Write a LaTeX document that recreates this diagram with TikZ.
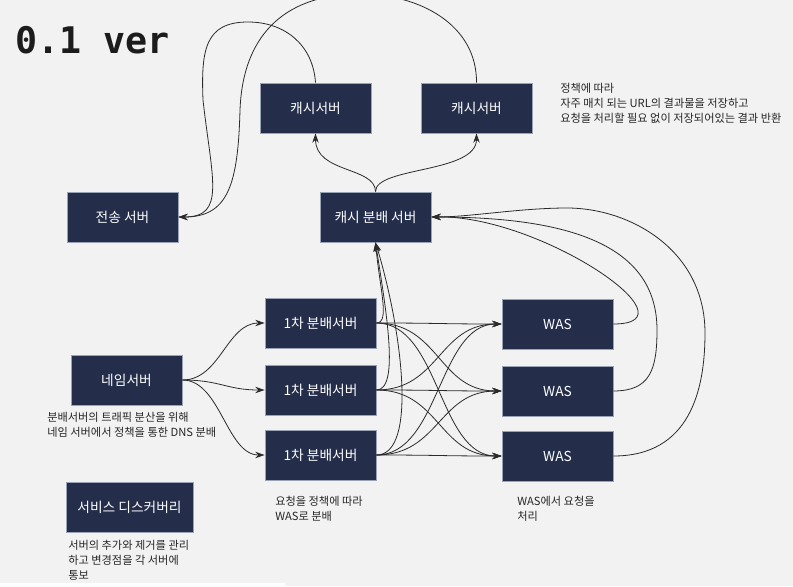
\documentclass[tikz,border=0pt]{standalone}
\usepackage{fontspec}
\setmainfont{Noto Sans CJK KR}
\newfontfamily\titlefont{DejaVu Sans Mono}
\usetikzlibrary{arrows.meta}
\definecolor{bg}{HTML}{F2F2F2}
\definecolor{boxfill}{HTML}{242E4B}
\definecolor{boxline}{HTML}{9AA3B5}
\definecolor{edgecol}{HTML}{2B2B2B}
\definecolor{notecol}{HTML}{262626}
\definecolor{titlecol}{HTML}{1C1C1C}
\begin{document}
\begin{tikzpicture}[x=0.75pt,y=-0.75pt,
  server/.style={draw=boxline, line width=0.6pt, fill=boxfill, text=white,
    minimum width=83.25pt, minimum height=37.5pt, inner sep=0pt,
    font=\fontsize{10.3}{12}\selectfont},
  notetext/.style={anchor=north west, align=left, inner sep=0pt, text=notecol,
    font=\fontsize{8.4}{11.25}\selectfont},
  link/.style={draw=edgecol, line width=0.6pt},
  arrowlink/.style={link, -{Stealth[length=7pt,width=4.8pt]}}
]
\fill[bg] (0,0) rectangle (793,586);
\useasboundingbox (0,0) rectangle (793,586);
\fill[white] (0,583) rectangle (285,586);

\node[anchor=base west, inner sep=0pt, text=titlecol,
  font=\titlefont\bfseries\fontsize{27.5}{30}\selectfont] (title) at (15,53) {0.1 ver};

% servers
\node[server] (cache1) at (315.5,108) {캐시서버};
\node[server] (cache2) at (476.5,108) {캐시서버};
\node[server] (trans) at (122.5,217) {전송 서버};
\node[server] (dist) at (375.5,217) {캐시 분배 서버};
\node[server] (names) at (126.5,380) {네임서버};
\node[server] (p1) at (320.5,323) {1차 분배서버};
\node[server] (p2) at (320.5,390) {1차 분배서버};
\node[server] (p3) at (320.5,455) {1차 분배서버};
\node[server] (w1) at (557.5,324) {WAS};
\node[server] (w2) at (557.5,391) {WAS};
\node[server] (w3) at (557.5,456) {WAS};
\node[server, minimum width=95.25pt] (disc) at (129.5,507) {서비스 디스커버리};

% notes
\node[notetext] (n1) at (560,83) {정책에 따라\\자주 매치 되는 URL의 결과물을 저장하고\\요청을 처리할 필요 없이 저장되어있는 결과 반환};
\node[notetext] (n2) at (47,412) {분배서버의 트래픽 분산을 위해\\네임 서버에서 정책을 통한 DNS 분배};
\node[notetext] (n3) at (68,540) {서버의 추가와 제거를 관리\\하고 변경점을 각 서버에\\통보};
\node[notetext] (n4) at (275,496) {요청을 정책에 따라\\WAS로 분배};
\node[notetext] (n5) at (517,496) {WAS에서 요청을\\처리};

% cache distributor -> cache servers
\draw[arrowlink] (dist.north) .. controls +(0,-25) and +(0,40) .. (cache1.south);
\draw[arrowlink] (dist.north) .. controls +(0,-25) and +(0,40) .. (cache2.south);

% cache servers -> transfer server
\draw[arrowlink] (cache1.north) .. controls (313,45) and (285,22) .. (248,22)
  .. controls (205,22) and (201,50) .. (203,100)
  .. controls (212,180) and (226,217) .. (trans.east);
\draw[arrowlink] (cache2.north) .. controls (477,25) and (420,-6) .. (360,-6)
  .. controls (290,-6) and (243,30) .. (240,110)
  .. controls (238,185) and (228,217) .. (trans.east);

% name server -> primary distributors
\foreach \t in {p1,p2,p3}
  \draw[arrowlink] (names.east) .. controls +(38,0) and +(-38,0) .. (\t.west);

% primary distributors -> WAS
\foreach \s in {p1,p2,p3}
  \foreach \t in {w1,w2,w3}
    \draw[arrowlink] (\s.east) .. controls +(63,0) and +(-63,0) .. (\t.west);

% primary distributors -> cache distributor
\draw[arrowlink] (p1.east) .. controls (390,323) and (380,290) .. (dist.south);
\draw[arrowlink] (p2.east) .. controls (400,390) and (386,310) .. (dist.south);
\draw[arrowlink] (p3.east) .. controls (418,455) and (402,330) .. (dist.south);

% WAS -> cache distributor
\draw[arrowlink] (w1.east) .. controls (700,324) and (540,215) .. (dist.east);
\draw[arrowlink] (w2.east) .. controls (650,391) and (657,370) .. (657,330)
  .. controls (657,250) and (580,217) .. (dist.east);
\draw[arrowlink] (w3.east) .. controls (690,456) and (705,390) .. (705,333)
  .. controls (705,250) and (630,208) .. (567,208)
  .. controls (520,208) and (470,217) .. (dist.east);
\end{tikzpicture}
\end{document}
